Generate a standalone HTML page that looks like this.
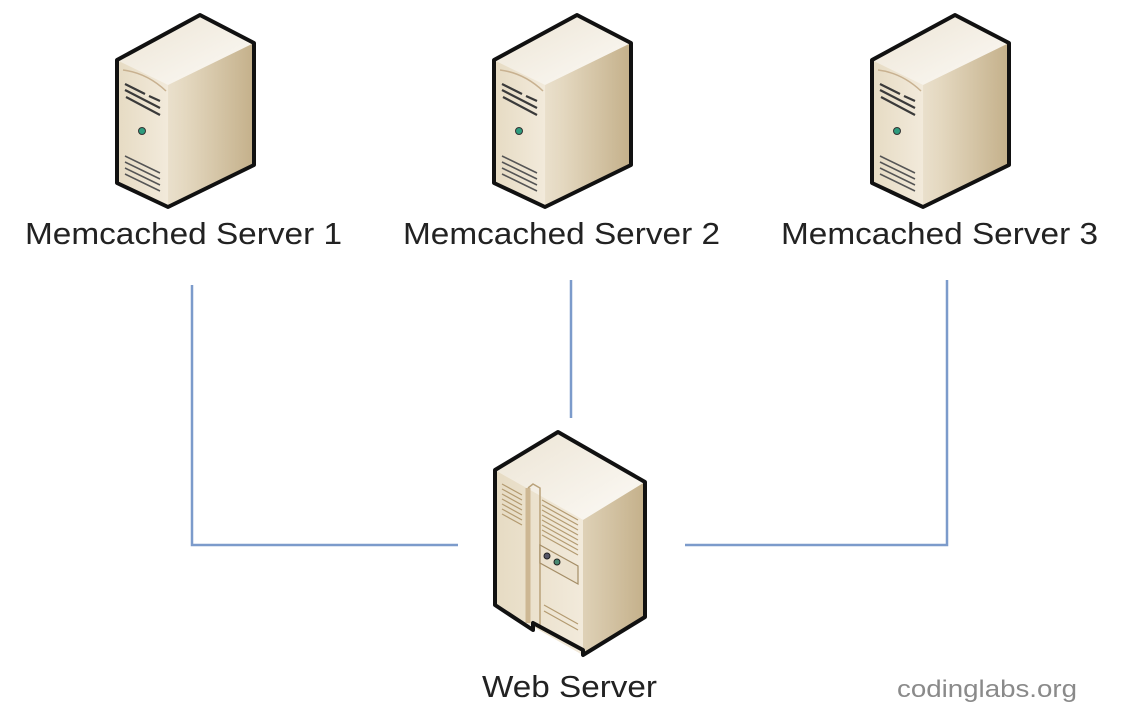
<!DOCTYPE html>
<html><head><meta charset="utf-8"><style>html,body{margin:0;padding:0;background:#fff}svg{display:block}</style></head><body>
<svg width="1122" height="724" viewBox="0 0 1122 724" xmlns="http://www.w3.org/2000/svg">
<defs>
<linearGradient id="top" x1="0" y1="0" x2="1" y2="1"><stop offset="0" stop-color="#ece4d4"/><stop offset="1" stop-color="#fcfaf6"/></linearGradient>
<linearGradient id="front" x1="0" y1="0" x2="1" y2="0"><stop offset="0" stop-color="#e6dbc3"/><stop offset="1" stop-color="#f2eadb"/></linearGradient>
<linearGradient id="side" x1="0" y1="0" x2="1" y2="0"><stop offset="0" stop-color="#faf6ee"/><stop offset="0.5" stop-color="#e4d8c0"/><stop offset="1" stop-color="#c4b08a"/></linearGradient>
<g id="srv">
  <path d="M0,45 L83,0 L137,28 L137,150 L51,192 L0,168 Z" fill="url(#side)"/>
  <path d="M0,45 L51,70 L51,192 L0,168 Z" fill="url(#front)"/>
  <path d="M0,45 L83,0 L137,28 L51,70 Z" fill="url(#top)"/>
  <path d="M6,55 Q30,58 49,76" fill="none" stroke="#c8b190" stroke-width="1.5"/>
  <path d="M8,69 L28,79 M32,81 L43,86 M8,75 L43,93 M9,82 L43,100" stroke="#3a3a3a" stroke-width="2.2"/>
  <circle cx="25" cy="116" r="3.5" fill="#2e9c7e" stroke="#333" stroke-width="1"/>
  <path d="M8,141 L43,158 M8,147 L43,164 M8,153 L43,170 M8,159 L43,176" stroke="#555" stroke-width="1.6"/>
  <path d="M0,45 L83,0 L137,28 L137,150 L51,192 L0,168 Z" fill="none" stroke="#111" stroke-width="4" stroke-linejoin="round"/>
</g>
</defs>
<use href="#srv" x="117" y="15"/>
<use href="#srv" x="494" y="15"/>
<use href="#srv" x="872" y="15"/>
<g font-family="'Liberation Sans', sans-serif" font-size="31" fill="#222">
<text x="25" y="244" textLength="317" lengthAdjust="spacingAndGlyphs">Memcached Server 1</text>
<text x="403" y="244" textLength="317" lengthAdjust="spacingAndGlyphs">Memcached Server 2</text>
<text x="781" y="244" textLength="317" lengthAdjust="spacingAndGlyphs">Memcached Server 3</text>
<text x="482" y="697" textLength="175" lengthAdjust="spacingAndGlyphs">Web Server</text>
</g>
<text x="897" y="697" font-family="'Liberation Sans', sans-serif" font-size="24" fill="#8a8a8a" textLength="180" lengthAdjust="spacingAndGlyphs">codinglabs.org</text>
<g stroke="#7c9bcb" stroke-width="2.5" fill="none">
<path d="M192,285 L192,545 L458,545"/>
<path d="M571,280 L571,418"/>
<path d="M685,545 L947,545 L947,280"/>
</g>
<g>
  <path d="M495,470 L558,432 L645,482 L645,617 L583,655 L495,605 Z" fill="url(#side)"/>
  <path d="M495,470 L583,520 L583,655 L495,605 Z" fill="url(#front)"/>
  <path d="M495,470 L558,432 L645,482 L583,520 Z" fill="url(#top)"/>
  <path d="M528,488 L528,623" stroke="#cdb793" stroke-width="5"/>
  <path d="M528,488 L533,484 L540,488 L540,628" stroke="#b9a27a" stroke-width="1.5" fill="none"/>
  <g stroke="#b39a70" stroke-width="1.2">
    <path d="M502,484 L522,495 M502,489 L522,500 M502,494 L522,505 M502,499 L522,510 M502,504 L522,515 M502,509 L522,520 M502,514 L522,525"/>
    <path d="M542,500 L578,520 M542,505 L578,525 M542,510 L578,530 M542,515 L578,535 M542,520 L578,540 M542,525 L578,545 M542,530 L578,550 M542,535 L578,555"/>
    <path d="M544,605 L578,624 M544,611 L578,630"/>
  </g>
  <path d="M540,545 L578,566 L578,584 L540,563 Z" fill="#ece2cf" stroke="#a48d66" stroke-width="1.2"/>
  <circle cx="547" cy="556" r="3" fill="#556" stroke="#222"/>
  <circle cx="557" cy="562" r="3" fill="#4a8a72" stroke="#222"/>
  <path d="M495,470 L558,432 L645,482 L645,617 L583,655 L583,650 L533,623 L533,630 L495,605 Z" fill="none" stroke="#111" stroke-width="4" stroke-linejoin="round"/>
</g>
</svg>
</body></html>
